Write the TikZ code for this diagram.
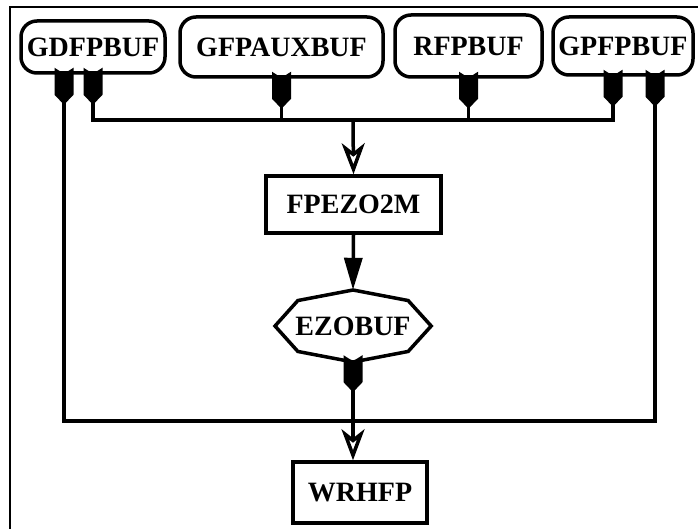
\documentclass[tikz,border=0pt]{standalone}
\usepackage{fontspec}
\setmainfont{Liberation Serif}
\usetikzlibrary{positioning,arrows.meta,calc}
\tikzset{
  rbox/.style={rectangle,draw,line width=3.5pt,rounded corners=16pt,inner sep=0pt,
    align=center,font=\fontsize{28}{30}\selectfont\bfseries},
  sbox/.style={rectangle,draw,line width=3.5pt,inner sep=0pt,
    align=center,font=\fontsize{28}{30}\selectfont\bfseries},
  wire/.style={line width=3.5pt},
  openarr/.style={wire,-{Stealth[open,length=31pt,width=23pt,inset=9pt]}},
  fillarr/.style={wire,-{Triangle[length=32pt,width=18pt]}},
  tail/.pic={\fill (-9.5,-7) -- (0,-1) -- (9.5,-7) -- (9.5,20) -- (0,30) -- (-9.5,20) -- cycle;},
}
\begin{document}
\begin{tikzpicture}[x=1pt,y=-1pt]
  \useasboundingbox (0,0) rectangle (698,529);
  \draw[line width=2pt] (10,529) -- (10,7) -- (698,7);
  % top row
  \node[rbox,minimum width=144pt,minimum height=52pt] (gdf) at (93,47) {GDFPBUF};
  \node[rbox,minimum width=203pt,minimum height=60pt] (gfa) at (281.5,47) {GFPAUXBUF};
  \node[rbox,minimum width=147pt,minimum height=62pt] (rfp) at (468.5,46) {RFPBUF};
  \node[rbox,minimum width=140pt,minimum height=58pt] (gpf) at (623,46) {GPFPBUF};
  % middle column
  \node[sbox,minimum width=175pt,minimum height=57pt] (fpe) at (353.5,204.5) {FPEZO2M};
  \node[inner sep=0pt,minimum width=156pt,minimum height=72pt,
    font=\fontsize{28}{30}\selectfont\bfseries] (ezo) at (353,326) {EZOBUF};
  \node[sbox,minimum width=134pt,minimum height=61pt] (wrh) at (360,492.5) {WRHFP};
  \draw[wire] (ezo.east) \foreach \a in {45,90,...,315} {-- ($(ezo.center)+(\a:78 and 36)$)} -- cycle;
  \coordinate (busA) at (353,120);
  \coordinate (busB) at (353,421);
  % wires
  \draw[wire] (gdf.south) |- (busA) -| ([xshift=-10pt]gpf.south);
  \draw[wire] (gfa.south) -- (gfa.south |- busA);
  \draw[wire] (rfp.south) -- (rfp.south |- busA);
  \draw[wire] ([xshift=-29pt]gdf.south) |- (busB) -| ([xshift=32pt]gpf.south);
  \draw[openarr] (busA) -- (fpe.north);
  \draw[fillarr] (fpe.south) -- (ezo.north);
  \draw[openarr] (ezo.south) -- (ezo.south |- wrh.north);
  % tails
  \pic at ([xshift=-29pt]gdf.south) {tail};
  \pic at (gdf.south) {tail};
  \pic at (gfa.south) {tail};
  \pic at (rfp.south) {tail};
  \pic at ([xshift=-10pt]gpf.south) {tail};
  \pic at ([xshift=32pt]gpf.south) {tail};
  \pic at (ezo.south) {tail};
\end{tikzpicture}
\end{document}
